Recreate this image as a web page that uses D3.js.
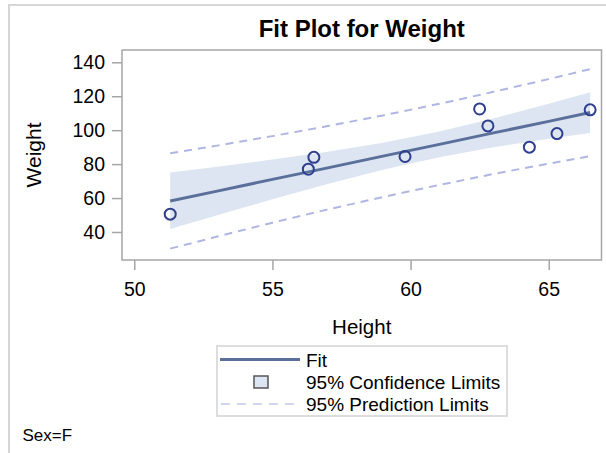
<!DOCTYPE html>
<html>
<head>
<meta charset="utf-8">
<script src="https://cdn.jsdelivr.net/npm/d3@7.9.0/dist/d3.min.js"></script>
<style>
  body { margin: 0; background: #fff; }
  text { font-family: "Liberation Sans", Arial, sans-serif; fill: #000; }
</style>
</head>
<body>
<svg id="chart" width="606" height="453"></svg>
<script>
// observed points (Sex=F)
const heights = [56.5, 65.3, 62.8, 59.8, 62.5, 51.3, 64.3, 56.3, 66.5];
const weights = [84.0, 98.0, 102.5, 84.5, 112.5, 50.5, 90.0, 77.0, 112.0];

// fit line + limits, read at these heights
const gridX = [51.3, 53, 55, 57, 59, 61, 63, 65, 66.5];
const fitY = [58.3, 64.1, 71.0, 77.8, 84.7, 91.5, 98.4, 105.2, 110.4];
const clmLower = [41.7, 49.8, 59.3, 68.3, 76.7, 83.9, 89.9, 94.9, 98.3];
const clmUpper = [75.0, 78.4, 82.7, 87.3, 92.6, 99.1, 106.9, 115.6, 122.4];
const pLower = [30.2, 37.3, 45.5, 53.3, 60.6, 67.6, 74.2, 80.3, 84.7];
const pUpper = [86.4, 90.9, 96.5, 102.4, 108.7, 115.4, 122.6, 130.1, 136.0];

const xTicks = [50, 55, 60, 65];
const yTicks = [40, 60, 80, 100, 120, 140];
const legendLabels = ["Fit", "95% Confidence Limits", "95% Prediction Limits"];

const fitColor = "#5b6f9b";
const bandColor = "#dde5f2";
const predColor = "#b0b6e4";
const markColor = "#2e3f8e";
const axisGray = "#a6a6a6";

const svg = d3.select("#chart");

// outer border
svg.append("rect")
  .attr("x", 9).attr("y", 5).attr("width", 700).attr("height", 500)
  .attr("fill", "none").attr("stroke", "#d6d6d6").attr("stroke-width", 2);

const frame = { left: 122, right: 601.5, top: 50, bottom: 260 };

const x = d3.scaleLinear().domain([50, 65]).range([134.3, 548.7]);
const y = d3.scaleLinear().domain([40, 140]).range([232, 62.3]);

const grid = gridX.map((gx, i) => ({
  x: gx, fit: fitY[i], lo: clmLower[i], hi: clmUpper[i], plo: pLower[i], phi: pUpper[i]
}));

const plot = svg.append("g");

// confidence band
plot.append("path")
  .datum(grid)
  .attr("fill", bandColor)
  .attr("d", d3.area().x(d => x(d.x)).y0(d => y(d.lo)).y1(d => y(d.hi)));

// prediction limits
["plo", "phi"].forEach(k => {
  plot.append("path")
    .datum(grid)
    .attr("fill", "none")
    .attr("stroke", predColor)
    .attr("stroke-width", 2)
    .attr("stroke-dasharray", "8,6")
    .attr("d", d3.line().x(d => x(d.x)).y(d => y(d[k])));
});

// fit line
plot.append("path")
  .datum(grid)
  .attr("fill", "none")
  .attr("stroke", fitColor)
  .attr("stroke-width", 3)
  .attr("d", d3.line().x(d => x(d.x)).y(d => y(d.fit)));

// observations
plot.selectAll("circle")
  .data(heights.map((h, i) => [h, weights[i]]))
  .join("circle")
  .attr("cx", d => x(d[0]))
  .attr("cy", d => y(d[1]))
  .attr("r", 5.5)
  .attr("fill", "none")
  .attr("stroke", markColor)
  .attr("stroke-width", 2);

// frame
svg.append("rect")
  .attr("x", frame.left).attr("y", frame.top)
  .attr("width", frame.right - frame.left).attr("height", frame.bottom - frame.top)
  .attr("fill", "none").attr("stroke", axisGray).attr("stroke-width", 1.5);

// axes
const yAxis = svg.append("g")
  .attr("transform", `translate(${frame.left},0)`)
  .call(d3.axisLeft(y).tickValues(yTicks).tickSize(10).tickPadding(7));
const xAxis = svg.append("g")
  .attr("transform", `translate(0,${frame.bottom})`)
  .call(d3.axisBottom(x).tickValues(xTicks).tickSize(10).tickPadding(12));

[xAxis, yAxis].forEach(g => {
  g.select(".domain").remove();
  g.selectAll(".tick line").attr("stroke", axisGray).attr("stroke-width", 1.5);
  g.selectAll(".tick text").style("font-size", "19.5px").attr("fill", "#000");
});

// titles
svg.append("text")
  .attr("x", (frame.left + frame.right) / 2).attr("y", 37)
  .attr("text-anchor", "middle")
  .style("font-size", "24px").style("font-weight", "bold")
  .text("Fit Plot for Weight");

svg.append("text")
  .attr("x", (frame.left + frame.right) / 2).attr("y", 334)
  .attr("text-anchor", "middle")
  .style("font-size", "20.5px")
  .text("Height");

svg.append("text")
  .attr("transform", "translate(41,155) rotate(-90)")
  .attr("text-anchor", "middle")
  .style("font-size", "21px")
  .text("Weight");

svg.append("text")
  .attr("x", 22.5).attr("y", 441)
  .style("font-size", "17px")
  .text("Sex=F");

// legend
const leg = svg.append("g");
leg.append("rect")
  .attr("x", 217).attr("y", 346).attr("width", 290).attr("height", 70)
  .attr("fill", "#fff").attr("stroke", "#d2d2d2").attr("stroke-width", 1.5);

const rowY = [359.5, 382, 404];
leg.append("line")
  .attr("x1", 220).attr("x2", 300).attr("y1", rowY[0]).attr("y2", rowY[0])
  .attr("stroke", fitColor).attr("stroke-width", 3);
leg.append("rect")
  .attr("x", 254).attr("y", rowY[1] - 6).attr("width", 14).attr("height", 12)
  .attr("fill", bandColor).attr("stroke", "#555").attr("stroke-width", 1.5);
leg.append("line")
  .attr("x1", 221).attr("x2", 300).attr("y1", rowY[2]).attr("y2", rowY[2])
  .attr("stroke", "#c4c9ea").attr("stroke-width", 1.5)
  .attr("stroke-dasharray", "9,7");

leg.selectAll("text.lab")
  .data(legendLabels)
  .join("text")
  .attr("class", "lab")
  .attr("x", 306)
  .attr("y", (d, i) => rowY[i] + 7)
  .style("font-size", "19px")
  .text(d => d);
</script>
</body>
</html>
